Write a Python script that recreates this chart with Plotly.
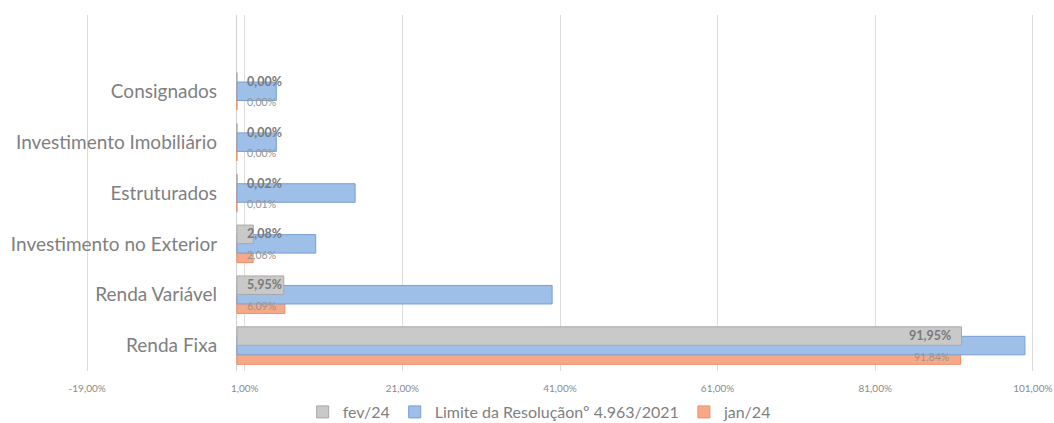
import plotly.graph_objects as go

categories = ["Renda Fixa", "Renda Variável", "Investimento no Exterior",
              "Estruturados", "Investimento Imobiliário", "Consignados"]
fev24 = [91.95, 5.95, 2.08, 0.02, 0.00, 0.00]
limite = [100.0, 40.0, 10.0, 15.0, 5.0, 5.0]
jan24 = [91.84, 6.09, 2.06, 0.01, 0.00, 0.00]
series_names = ["fev/24", "Limite da Resoluçãonº 4.963/2021", "jan/24"]
x_ticks = [-19, 1, 21, 41, 61, 81, 101]
x_tick_labels = ["-19,00%", "1,00%", "21,00%", "41,00%", "61,00%", "81,00%", "101,00%"]

FONT = "Lato"
W, H = 1054, 423
ML, MR, MT, MB = 86, 20, 15, 52
XMIN, XMAX = -19.15, 101.15
px_per = (W - ML - MR) / (XMAX - XMIN)

BW = 0.364
fig = go.Figure()
# draw order: jan (bottom), limite, fev (top)
fig.add_trace(go.Bar(y=categories, x=jan24, orientation="h", name=series_names[2],
                     marker=dict(color="#f7a987", line=dict(color="#ec9166", width=1)),
                     width=BW, offset=-0.369, legendrank=3, hoverinfo="skip"))
fig.add_trace(go.Bar(y=categories, x=limite, orientation="h", name=series_names[1],
                     marker=dict(color="#9dbfe8", line=dict(color="#779fd3", width=1)),
                     width=BW, offset=-0.182, legendrank=2, hoverinfo="skip"))
fig.add_trace(go.Bar(y=categories, x=fev24, orientation="h", name=series_names[0],
                     marker=dict(color="#c9c9c9", line=dict(color="#a9a9a9", width=1)),
                     width=BW, offset=0.005, legendrank=1, hoverinfo="skip"))

def fmt(v):
    return f"{v:.2f}".replace(".", ",") + "%"

annotations = []
for cat, v in zip(categories, fev24):
    big = v * px_per > 60
    annotations.append(dict(x=v if big else 0, y=cat, xref="x", yref="y",
                            text="<b>" + fmt(v) + "</b>", showarrow=False,
                            xanchor="right" if big else "left",
                            xshift=-9 if big else 8, yshift=10,
                            font=dict(family=FONT, size=12.5, color="#7a7a7a")))
for cat, v in zip(categories, jan24):
    big = v * px_per > 60
    annotations.append(dict(x=v if big else 0, y=cat, xref="x", yref="y",
                            text=fmt(v), showarrow=False,
                            xanchor="right" if big else "left",
                            xshift=-10 if big else 8, yshift=-11,
                            font=dict(family=FONT, size=10.5, color="#959595")))

fig.update_layout(
    width=W, height=H,
    margin=dict(l=ML, r=MR, t=MT, b=MB, autoexpand=False),
    barmode="overlay",
    plot_bgcolor="white", paper_bgcolor="white",
    font=dict(family=FONT, color="#7f7f7f"),
    annotations=annotations,
    legend=dict(orientation="h", xref="container", yref="container",
                x=0.512, xanchor="center", y=0.026, yanchor="middle",
                font=dict(family=FONT, size=16, color="#7f7f7f"),
                itemwidth=30, traceorder="normal"),
    showlegend=True,
)
fig.update_xaxes(range=[XMIN, XMAX], tickvals=x_ticks, ticktext=x_tick_labels,
                 showgrid=True, gridcolor="#dcdcdc", gridwidth=1,
                 zeroline=True, zerolinecolor="#d0d0d0", zerolinewidth=1,
                 showline=False, ticks="outside", ticklen=8,
                 tickcolor="rgba(0,0,0,0)", automargin=False,
                 tickfont=dict(family=FONT, size=10, color="#8a8a8a"),
                 fixedrange=True)
fig.update_yaxes(type="category", categoryarray=categories, categoryorder="array",
                 range=[-0.5, 6.5], anchor="free",
                 position=(0 - XMIN) / (XMAX - XMIN),
                 showgrid=False, zeroline=False, showline=False,
                 ticks="outside", ticklen=16, tickcolor="rgba(0,0,0,0)",
                 automargin=False,
                 tickfont=dict(family=FONT, size=19, color="#7f7f7f"),
                 fixedrange=True)

fig.write_html("out.html")
